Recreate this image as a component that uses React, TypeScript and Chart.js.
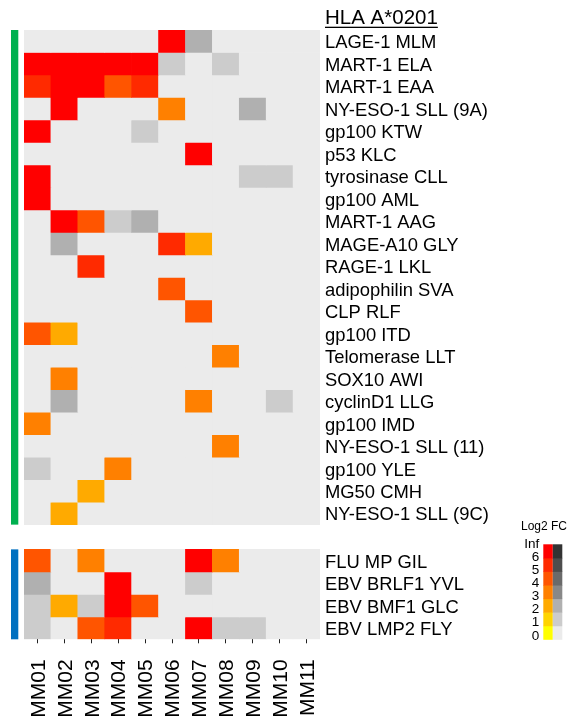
import React, { useEffect, useRef } from 'react';
import { Chart, registerables } from 'chart.js';

Chart.register(...registerables);

const samples = ['MM01', 'MM02', 'MM03', 'MM04', 'MM05', 'MM06', 'MM07', 'MM08', 'MM09', 'MM10', 'MM11'];

const epitopes = [
  'LAGE-1 MLM', 'MART-1 ELA', 'MART-1 EAA', 'NY-ESO-1 SLL (9A)', 'gp100 KTW', 'p53 KLC',
  'tyrosinase CLL', 'gp100 AML', 'MART-1 AAG', 'MAGE-A10 GLY', 'RAGE-1 LKL', 'adipophilin SVA',
  'CLP RLF', 'gp100 ITD', 'Telomerase LLT', 'SOX10 AWI', 'cyclinD1 LLG', 'gp100 IMD',
  'NY-ESO-1 SLL (11)', 'gp100 YLE', 'MG50 CMH', 'NY-ESO-1 SLL (9C)',
  'FLU MP GIL', 'EBV BRLF1 YVL', 'EBV BMF1 GLC', 'EBV LMP2 FLY',
];

const groupSizes = [22, 4];
const groupColors = ['#00B050', '#0070C0'];
const panelTitle = 'HLA A*0201';

// log2 fold change per epitope (row) and sample (column); 0 = no response
const log2fc: number[][] = [
  [0, 0, 0, 0, 0, 6.5, 2.5, 0, 0, 0, 0],
  [6.5, 6.5, 6.5, 6.5, 6.5, 1.5, 0, 1.5, 0, 0, 0],
  [5.5, 6.5, 6.5, 4.5, 5.5, 0, 0, 0, 0, 0, 0],
  [0, 6.5, 0, 0, 0, 3.5, 0, 0, 2.5, 0, 0],
  [6.5, 0, 0, 0, 1.5, 0, 0, 0, 0, 0, 0],
  [0, 0, 0, 0, 0, 0, 6.5, 0, 0, 0, 0],
  [6.5, 0, 0, 0, 0, 0, 0, 0, 1.5, 1.5, 0],
  [6.5, 0, 0, 0, 0, 0, 0, 0, 0, 0, 0],
  [0, 6.5, 4.5, 1.5, 2.5, 0, 0, 0, 0, 0, 0],
  [0, 2.5, 0, 0, 0, 5.5, 2.5, 0, 0, 0, 0],
  [0, 0, 5.5, 0, 0, 0, 0, 0, 0, 0, 0],
  [0, 0, 0, 0, 0, 4.5, 0, 0, 0, 0, 0],
  [0, 0, 0, 0, 0, 0, 4.5, 0, 0, 0, 0],
  [4.5, 2.5, 0, 0, 0, 0, 0, 0, 0, 0, 0],
  [0, 0, 0, 0, 0, 0, 0, 3.5, 0, 0, 0],
  [0, 3.5, 0, 0, 0, 0, 0, 0, 0, 0, 0],
  [0, 2.5, 0, 0, 0, 0, 3.5, 0, 0, 1.5, 0],
  [3.5, 0, 0, 0, 0, 0, 0, 0, 0, 0, 0],
  [0, 0, 0, 0, 0, 0, 0, 3.5, 0, 0, 0],
  [1.5, 0, 0, 3.5, 0, 0, 0, 0, 0, 0, 0],
  [0, 0, 2.5, 0, 0, 0, 0, 0, 0, 0, 0],
  [0, 2.5, 0, 0, 0, 0, 0, 0, 0, 0, 0],
  [4.5, 0, 3.5, 0, 0, 0, 6.5, 3.5, 0, 0, 0],
  [2.5, 0, 0, 6.5, 0, 0, 1.5, 0, 0, 0, 0],
  [1.5, 2.5, 1.5, 6.5, 4.5, 0, 0, 0, 0, 0, 0],
  [1.5, 0, 4.5, 5.5, 0, 0, 6.5, 1.5, 1.5, 0, 0],
];

// 1 = significant response (coloured), 0 = not significant (grey)
const significant: number[][] = [
  [0, 0, 0, 0, 0, 1, 0, 0, 0, 0, 0],
  [1, 1, 1, 1, 1, 0, 0, 0, 0, 0, 0],
  [1, 1, 1, 1, 1, 0, 0, 0, 0, 0, 0],
  [0, 1, 0, 0, 0, 1, 0, 0, 0, 0, 0],
  [1, 0, 0, 0, 0, 0, 0, 0, 0, 0, 0],
  [0, 0, 0, 0, 0, 0, 1, 0, 0, 0, 0],
  [1, 0, 0, 0, 0, 0, 0, 0, 0, 0, 0],
  [1, 0, 0, 0, 0, 0, 0, 0, 0, 0, 0],
  [0, 1, 1, 0, 0, 0, 0, 0, 0, 0, 0],
  [0, 0, 0, 0, 0, 1, 1, 0, 0, 0, 0],
  [0, 0, 1, 0, 0, 0, 0, 0, 0, 0, 0],
  [0, 0, 0, 0, 0, 1, 0, 0, 0, 0, 0],
  [0, 0, 0, 0, 0, 0, 1, 0, 0, 0, 0],
  [1, 1, 0, 0, 0, 0, 0, 0, 0, 0, 0],
  [0, 0, 0, 0, 0, 0, 0, 1, 0, 0, 0],
  [0, 1, 0, 0, 0, 0, 0, 0, 0, 0, 0],
  [0, 0, 0, 0, 0, 0, 1, 0, 0, 0, 0],
  [1, 0, 0, 0, 0, 0, 0, 0, 0, 0, 0],
  [0, 0, 0, 0, 0, 0, 0, 1, 0, 0, 0],
  [0, 0, 0, 1, 0, 0, 0, 0, 0, 0, 0],
  [0, 0, 1, 0, 0, 0, 0, 0, 0, 0, 0],
  [0, 1, 0, 0, 0, 0, 0, 0, 0, 0, 0],
  [1, 0, 1, 0, 0, 0, 1, 1, 0, 0, 0],
  [0, 0, 0, 1, 0, 0, 0, 0, 0, 0, 0],
  [0, 1, 0, 1, 1, 0, 0, 0, 0, 0, 0],
  [0, 0, 1, 1, 0, 0, 1, 0, 0, 0, 0],
];

const legendTitle = 'Log2 FC';
const legendLabels = ['Inf', '6', '5', '4', '3', '2', '1', '0'];
const sigPalette = ['#FFFF00', '#FFD400', '#FFAA00', '#FF8000', '#FF5500', '#FF2A00', '#FF0000'];
const nsPalette = ['#EBEBEB', '#CCCCCC', '#B0B0B0', '#888888', '#6A6A6A', '#4D4D4D', '#333333'];
const emptyColor = '#EBEBEB';

const GROUP_GAP = 1.1;
const FONT = 'Arial, "Liberation Sans", Helvetica, sans-serif';

function rowStart(i: number): number {
  return i + (i >= groupSizes[0] ? GROUP_GAP : 0);
}

function cellColor(v: number, sig: number): string {
  if (!v) return emptyColor;
  const level = Math.max(0, Math.min(6, Math.floor(v)));
  return sig ? sigPalette[level] : nsPalette[level];
}

const totalRows = epitopes.length + GROUP_GAP;
const rowCenters = epitopes.map((_, i) => rowStart(i) + 0.5);

const decorPlugin = {
  id: 'decor',
  afterDraw(chart: any) {
    const { ctx, chartArea, scales } = chart;
    const y = scales.y;
    ctx.save();
    // group bars
    let start = 0;
    groupSizes.forEach((n, g) => {
      const top = y.getPixelForValue(rowStart(start));
      const bottom = y.getPixelForValue(rowStart(start + n - 1) + 1);
      ctx.fillStyle = groupColors[g];
      ctx.fillRect(11, top, 7.3, bottom - top);
      start += n;
    });
    // title
    ctx.fillStyle = '#000';
    ctx.font = `20.5px ${FONT}`;
    ctx.textAlign = 'left';
    ctx.textBaseline = 'alphabetic';
    const tx = chartArea.right + 5;
    const ty = chartArea.top - 6;
    ctx.fillText(panelTitle, tx, ty);
    const tw = ctx.measureText(panelTitle).width;
    ctx.fillRect(tx, ty + 2.7, tw, 1.3);
    // colour legend
    const barBottom = chartArea.bottom;
    const barTop = barBottom - 95;
    const segH = (barBottom - barTop) / sigPalette.length;
    const bx = chart.width - 27.7;
    const bw = 9.5;
    for (let k = 0; k < sigPalette.length; k++) {
      const yy = barBottom - (k + 1) * segH;
      ctx.fillStyle = sigPalette[k];
      ctx.fillRect(bx, yy, bw, segH + 0.5);
      ctx.fillStyle = nsPalette[k];
      ctx.fillRect(bx + bw, yy, bw, segH + 0.5);
    }
    ctx.fillStyle = '#000';
    ctx.font = `13.5px ${FONT}`;
    ctx.textAlign = 'right';
    ctx.textBaseline = 'middle';
    const lTop = barTop - 0.5;
    const lBottom = barBottom - 3.5;
    legendLabels.forEach((lab, k) => {
      ctx.fillText(lab, bx - 4, lTop + (k * (lBottom - lTop)) / (legendLabels.length - 1));
    });
    ctx.font = `12px ${FONT}`;
    ctx.textAlign = 'left';
    ctx.textBaseline = 'alphabetic';
    ctx.fillText(legendTitle, chart.width - 50, barTop - 14);
    ctx.restore();
  },
};

export default function App() {
  const canvasRef = useRef<HTMLCanvasElement | null>(null);

  useEffect(() => {
    document.body.style.margin = '0';
    const canvas = canvasRef.current;
    if (!canvas) return;
    const datasets = epitopes.map((name, i) => ({
      label: name,
      data: samples.map(() => [rowStart(i), rowStart(i) + 1]),
      backgroundColor: samples.map((_, j) => cellColor(log2fc[i][j], significant[i][j])),
      borderWidth: 0,
      borderSkipped: false,
      grouped: false,
      barPercentage: 1,
      categoryPercentage: 1,
    }));
    const labelMap: Record<string, string> = {};
    rowCenters.forEach((c, i) => {
      labelMap[c.toFixed(2)] = epitopes[i];
    });
    const chart = new Chart(canvas, {
      type: 'bar',
      data: { labels: samples, datasets: datasets as any },
      options: {
        animation: false,
        responsive: false,
        maintainAspectRatio: false,
        layout: { padding: { left: 24, top: 30, right: 0, bottom: 0 } },
        plugins: { legend: { display: false }, tooltip: { enabled: false }, title: { display: false } },
        scales: {
          x: {
            type: 'category',
            position: 'bottom',
            offset: true,
            border: { display: false },
            grid: {
              offset: false,
              drawOnChartArea: false,
              drawTicks: true,
              tickLength: 4,
              tickColor: '#222',
              tickWidth: 1,
            },
            ticks: {
              autoSkip: false,
              minRotation: 90,
              maxRotation: 90,
              padding: 16,
              labelOffset: 1.5,
              color: '#000',
              font: { family: FONT, size: 21 },
            },
            afterFit: (scale: any) => {
              scale.height = 83.7;
            },
          },
          y: {
            type: 'linear',
            position: 'right',
            reverse: true,
            min: 0,
            max: totalRows,
            border: { display: false },
            grid: { display: false, drawTicks: false },
            afterBuildTicks: (axis: any) => {
              axis.ticks = rowCenters.map((v) => ({ value: v }));
            },
            ticks: {
              autoSkip: false,
              padding: 5,
              labelOffset: 2,
              color: '#000',
              font: { family: FONT, size: 18.4 },
              callback: (v: any) => labelMap[Number(v).toFixed(2)] ?? '',
            },
            afterFit: (scale: any) => {
              scale.width = 251;
            },
          },
        },
      },
      plugins: [decorPlugin],
    });
    return () => chart.destroy();
  }, []);

  return (
    <div style={{ width: 571, height: 723, background: '#fff' }}>
      <canvas ref={canvasRef} width={571} height={723} style={{ display: 'block' }} />
    </div>
  );
}
